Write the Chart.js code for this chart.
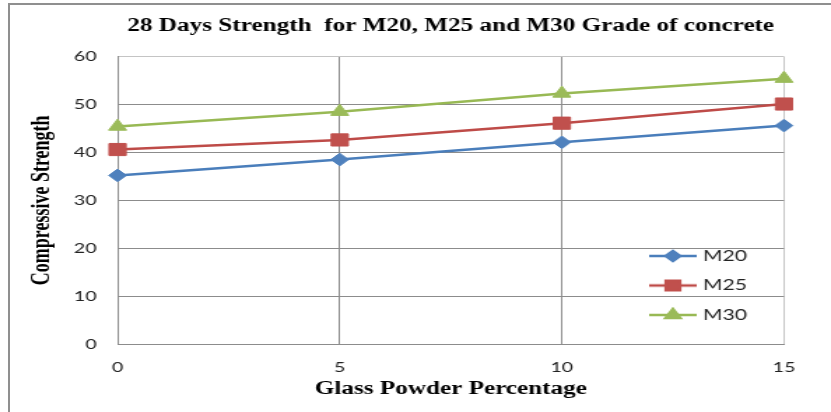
<!DOCTYPE html>
<html lang="en">
  <head>
    <meta charset="UTF-8" />
    <title>28 Days Strength</title>
    <style>
      html, body { margin: 0; padding: 0; background: #fff; }
      body { width: 831px; height: 412px; position: relative; overflow: hidden; }
      #frame {
        position: absolute; left: 8px; top: 3px; width: 900px; height: 430px;
        border: 2px solid #8f8f8f; box-sizing: border-box;
      }
      /* the original picture is stretched sideways, so the chart is drawn narrow and widened */
      #chart {
        position: absolute; left: 0; top: 0;
        transform: scaleX(1.399); transform-origin: 0 0;
      }
    </style>
  </head>
  <body>
    <div id="frame"></div>
    <canvas id="chart" width="594" height="412"></canvas>
    <script src="https://cdn.jsdelivr.net/npm/chart.js"></script>
    <script>
      // glass powder percentage
      const percent = ["0", "5", "10", "15"];

      // compressive strength
      const m20 = [35.2, 38.5, 42.1, 45.6];
      const m25 = [40.6, 42.6, 46.1, 50.1];
      const m30 = [45.4, 48.5, 52.3, 55.4];

      const seriesNames = ["M20", "M25", "M30"];

      const lineColors = ["#4A7EBB", "#BE4B48", "#98B954"];
      const markColors = ["#4F81BD", "#C0504D", "#9BBB59"];
      const markStyles = ["rectRot", "rect", "triangle"];
      const markSizes = [6.3, 8.6, 7.4];

      // little legend icons: a line with the marker on it
      function makeIcon(i) {
        const c = document.createElement("canvas");
        c.width = 34;
        c.height = 16;
        const ctx = c.getContext("2d");
        ctx.strokeStyle = lineColors[i];
        ctx.lineWidth = 2.5;
        ctx.beginPath();
        ctx.moveTo(0, 8);
        ctx.lineTo(34, 8);
        ctx.stroke();
        ctx.fillStyle = markColors[i];
        ctx.strokeStyle = markColors[i];
        Chart.helpers.drawPoint(ctx, {
          pointStyle: markStyles[i],
          radius: markSizes[i] * 0.8,
          rotation: 0,
          borderWidth: 1,
        }, 17, 8);
        return c;
      }
      const icons = [0, 1, 2].map(makeIcon);

      // put the legend inside the plot, lower right
      const legendPlace = {
        id: "legendPlace",
        afterLayout(chart) {
          const lg = chart.legend;
          const w = lg.width;
          lg.left = 452.5;
          lg.right = lg.left + w;
          lg.top = 234;
          lg.bottom = lg.top + 200;
        },
      };

      const data = {
        labels: percent,
        datasets: [m20, m25, m30].map((vals, i) => ({
          label: seriesNames[i],
          data: vals,
          borderColor: lineColors[i],
          backgroundColor: markColors[i],
          borderWidth: 2.5,
          pointStyle: markStyles[i],
          pointRadius: markSizes[i],
          pointBackgroundColor: markColors[i],
          pointBorderColor: markColors[i],
          pointBorderWidth: 1,
          tension: 0,
        })),
      };

      const gridColor = "#8c8c8c";
      const edgeColor = "#c4c4c4";

      new Chart(document.getElementById("chart"), {
        type: "line",
        data: data,
        plugins: [legendPlace],
        options: {
          responsive: false,
          animation: false,
          layout: { padding: { left: 0, right: 33.6, top: 0, bottom: 0 } },
          plugins: {
            title: {
              display: true,
              fullSize: false,
              text: "28 Days Strength  for M20, M25 and M30 Grade of concrete",
              color: "#000",
              font: { family: "'Liberation Serif', 'Times New Roman', serif", size: 18, weight: "bold" },
              padding: { top: 16, bottom: 19 },
            },
            legend: {
              position: "chartArea",
              fullSize: false,
              align: "start",
              labels: {
                usePointStyle: true,
                pointStyleWidth: 28,
                padding: 14.5,
                color: "#222",
                font: { family: "Lato, 'Liberation Sans', sans-serif", size: 15 },
                generateLabels(chart) {
                  const items = Chart.defaults.plugins.legend.labels.generateLabels(chart);
                  items.forEach((it, i) => { it.pointStyle = icons[i]; });
                  return items;
                },
              },
            },
            tooltip: { enabled: false },
          },
          scales: {
            x: {
              offset: false,
              grid: {
                color: (ctx) => (ctx.index === percent.length - 1 ? edgeColor : gridColor),
                drawTicks: false,
              },
              border: { color: gridColor },
              ticks: {
                padding: 14.6,
                color: "#222",
                font: { family: "Lato, 'Liberation Sans', sans-serif", size: 14 },
              },
              title: {
                display: true,
                text: "Glass Powder Percentage",
                color: "#000",
                font: { family: "'Liberation Serif', 'Times New Roman', serif", size: 18, weight: "bold" },
                padding: { top: -11.8, bottom: 12.2 },
              },
            },
            y: {
              min: 0,
              max: 60,
              ticks: {
                stepSize: 10,
                padding: 15,
                color: "#222",
                font: { family: "Lato, 'Liberation Sans', sans-serif", size: 14 },
              },
              grid: {
                color: (ctx) => (ctx.tick && ctx.tick.value === 60 ? edgeColor : gridColor),
                drawTicks: false,
              },
              border: { color: gridColor },
              title: {
                display: true,
                text: "Compressive Strength",
                color: "#000",
                font: { family: "'Liberation Serif', 'Times New Roman', serif", size: 18, weight: "bold" },
                padding: { top: 19.2, bottom: -3 },
              },
            },
          },
        },
      });
    </script>
  </body>
</html>
